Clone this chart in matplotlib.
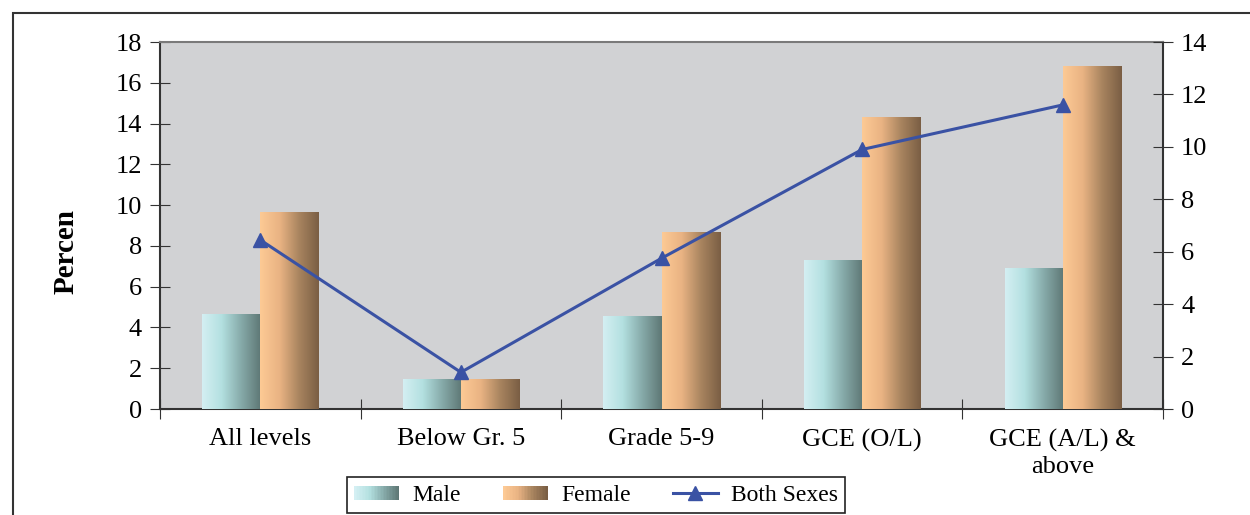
import numpy as np
import matplotlib
matplotlib.use('Agg')
import matplotlib.pyplot as plt
from matplotlib.colors import LinearSegmentedColormap
from matplotlib.patches import Rectangle
from matplotlib.lines import Line2D
from matplotlib.legend_handler import HandlerBase

categories = ['All levels', 'Below Gr. 5', 'Grade 5-9', 'GCE (O/L)', 'GCE (A/L) &\nabove']
male = [4.65, 1.45, 4.55, 7.3, 6.9]
female = [9.65, 1.45, 8.65, 14.3, 16.8]
both = [6.45, 1.4, 5.75, 9.9, 11.6]

left_ticks = list(range(0, 19, 2))
right_ticks = list(range(0, 15, 2))

male_cmap = LinearSegmentedColormap.from_list('m', ['#d4eff3', '#b3e0e0', '#86aaa9', '#5e7775'])
female_cmap = LinearSegmentedColormap.from_list('f', ['#fdca95', '#e9b383', '#a8845f', '#7a5e44'])
line_color = '#3a52a4'

plt.rcParams['font.family'] = ['Liberation Serif', 'DejaVu Serif']
plt.rcParams['font.size'] = 19

fig = plt.figure(figsize=(12.5, 5.15), dpi=100)
ax = fig.add_axes([0.128, 0.2058, 0.8024, 0.7126])
ax.set_facecolor('#d1d2d4')

x = np.arange(len(categories))
w = 0.29
grad = np.linspace(0, 1, 256).reshape(1, -1)


def gradient_bars(bars, cmap):
    for b in bars:
        x0, y0 = b.get_x(), b.get_y()
        ax.imshow(grad, cmap=cmap, aspect='auto', zorder=3,
                  extent=[x0, x0 + b.get_width(), y0, y0 + b.get_height()])


mb = ax.bar(x - w / 2, male, w, color='#a0c8c8', zorder=2)
fb = ax.bar(x + w / 2, female, w, color='#d0a070', zorder=2)
gradient_bars(mb, male_cmap)
gradient_bars(fb, female_cmap)

ax.set_xlim(-0.5, len(categories) - 0.5)
ax.set_ylim(0, 18)
ax.set_yticks(left_ticks)
ax.set_xticks(np.arange(-0.5, len(categories), 1.0))
ax.set_xticklabels([])
ax.set_xticks(x, minor=True)
ax.set_xticklabels(categories, minor=True, linespacing=1.25)
ax.tick_params(axis='x', which='minor', length=0, pad=14)
ax.tick_params(axis='x', which='major', direction='inout', length=14, color='#333333')
ax.tick_params(axis='y', direction='inout', length=14, color='#333333', pad=6)
ax.set_ylabel('Percen', fontweight='bold', fontsize=21)
ax.yaxis.set_label_coords(-0.08, 0.43)

for s in ['left', 'bottom', 'right']:
    ax.spines[s].set_color('#333333')
    ax.spines[s].set_linewidth(1.5)
ax.spines['top'].set_color('#7a7a7a')
ax.spines['top'].set_linewidth(1.5)

ax2 = ax.twinx()
ax2.plot(x, both, color=line_color, lw=2.2, marker='^', markersize=10, zorder=5)
ax2.set_ylim(0, 14)
ax2.set_yticks(right_ticks)
ax2.tick_params(axis='y', direction='inout', length=14, color='#333333', pad=6)
for s in ['left', 'bottom', 'right', 'top']:
    ax2.spines[s].set_visible(False)


class GradHandler(HandlerBase):
    def __init__(self, cmap):
        super().__init__()
        self.cmap = cmap

    def create_artists(self, legend, orig_handle, xdescent, ydescent, width, height, fontsize, trans):
        n = 30
        out = []
        for i in range(n):
            r = Rectangle((-xdescent + width * i / n, -ydescent + height * 0.05), width / n + 0.3,
                          height * 0.85, facecolor=self.cmap(i / (n - 1)), edgecolor='none',
                          transform=trans)
            out.append(r)
        return out


h_m = Rectangle((0, 0), 1, 1)
h_f = Rectangle((0, 0), 1, 1)
h_b = Line2D([], [], color=line_color, lw=2.2, marker='^', markersize=10)
leg = fig.legend([h_m, h_f, h_b], ['Male', 'Female', 'Both Sexes'], ncol=3,
                 loc='lower center', bbox_to_anchor=(0.4768, -0.019),
                 handler_map={h_m: GradHandler(male_cmap), h_f: GradHandler(female_cmap)},
                 frameon=True, fancybox=False, edgecolor='#222222', framealpha=1,
                 handlelength=1.9, handletextpad=0.55, columnspacing=1.8,
                 borderpad=0.3, fontsize=17)
leg.get_frame().set_linewidth(1.2)

fig.patches.append(Rectangle((13 / 1250, -0.1), 1.2, 1.1 - 13 / 515, fill=False,
                             edgecolor='#333333', linewidth=1.5, transform=fig.transFigure))

fig.savefig('out.png', dpi=100)
